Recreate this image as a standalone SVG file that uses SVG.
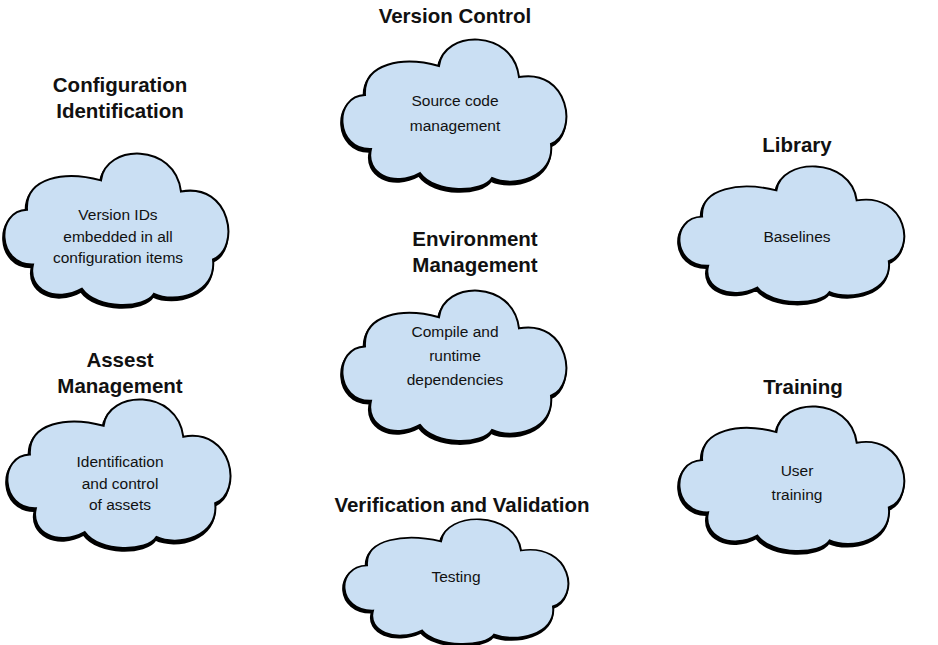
<svg xmlns="http://www.w3.org/2000/svg" width="938" height="645" viewBox="0 0 938 645">
<defs>
<path id="cloud" d="M28,111 C-8,112 -10,58 22,57 C20,25 60,18 96,28 C100,-8 170,-10 176,39 C226,30 236,95 208,106 C212,140 170,150 149,140 C140,155 92,156 77,135 C50,150 22,135 28,111 Z"/>
</defs>
<style>
.shadow{fill:#000;stroke:#000;stroke-width:2.5;vector-effect:non-scaling-stroke}
.body{fill:#cadff3;stroke:#000;stroke-width:2;vector-effect:non-scaling-stroke}
.title{font-family:"Liberation Sans",Arial,sans-serif;font-weight:bold;font-size:20.5px;fill:#111;text-anchor:middle}
.txt{font-family:"Liberation Sans",Arial,sans-serif;font-size:15.5px;fill:#111;text-anchor:middle}
</style>
<rect width="938" height="645" fill="#fff"/>
<g id="connectors"/>
<g id="version-control">
<text class="title" x="455" y="23">Version Control</text>
<g transform="translate(343,38) scale(1,1)"><use href="#cloud" class="shadow" transform="translate(-1,2.5)"/><use href="#cloud" class="body"/></g>
<text class="txt" x="455" y="106">Source code</text>
<text class="txt" x="455" y="131">management</text>
</g>
<g id="configuration-identification">
<text class="title" x="120" y="92">Configuration</text>
<text class="title" x="120" y="118">Identification</text>
<g transform="translate(5,152) scale(1,1.013)"><use href="#cloud" class="shadow" transform="translate(-1,2.5)"/><use href="#cloud" class="body"/></g>
<text class="txt" x="118" y="220">Version IDs</text>
<text class="txt" x="118" y="242">embedded in all</text>
<text class="txt" x="118" y="263">configuration items</text>
</g>
<g id="library">
<text class="title" x="797" y="152">Library</text>
<g transform="translate(680,165) scale(1.004,0.907)"><use href="#cloud" class="shadow" transform="translate(-1,2.5)"/><use href="#cloud" class="body"/></g>
<text class="txt" x="797" y="242">Baselines</text>
</g>
<g id="environment-management">
<text class="title" x="475" y="246">Environment</text>
<text class="title" x="475" y="272">Management</text>
<g transform="translate(343,289) scale(1,1.007)"><use href="#cloud" class="shadow" transform="translate(-1,2.5)"/><use href="#cloud" class="body"/></g>
<text class="txt" x="455" y="337">Compile and</text>
<text class="txt" x="455" y="361">runtime</text>
<text class="txt" x="455" y="385">dependencies</text>
</g>
<g id="assest-management">
<text class="title" x="120" y="367">Assest</text>
<text class="title" x="120" y="393">Management</text>
<g transform="translate(8,398) scale(0.996,0.993)"><use href="#cloud" class="shadow" transform="translate(-1,2.5)"/><use href="#cloud" class="body"/></g>
<text class="txt" x="120" y="467">Identification</text>
<text class="txt" x="120" y="489">and control</text>
<text class="txt" x="120" y="510">of assets</text>
</g>
<g id="training">
<text class="title" x="803" y="394">Training</text>
<g transform="translate(680,405) scale(1.004,0.967)"><use href="#cloud" class="shadow" transform="translate(-1,2.5)"/><use href="#cloud" class="body"/></g>
<text class="txt" x="797" y="476">User</text>
<text class="txt" x="797" y="500">training</text>
</g>
<g id="verification-validation">
<text class="title" x="462" y="512">Verification and Validation</text>
<g transform="translate(345,518) scale(1,0.833)"><use href="#cloud" class="shadow" transform="translate(-1,2.5)"/><use href="#cloud" class="body"/></g>
<text class="txt" x="456" y="582">Testing</text>
</g>
</svg>
